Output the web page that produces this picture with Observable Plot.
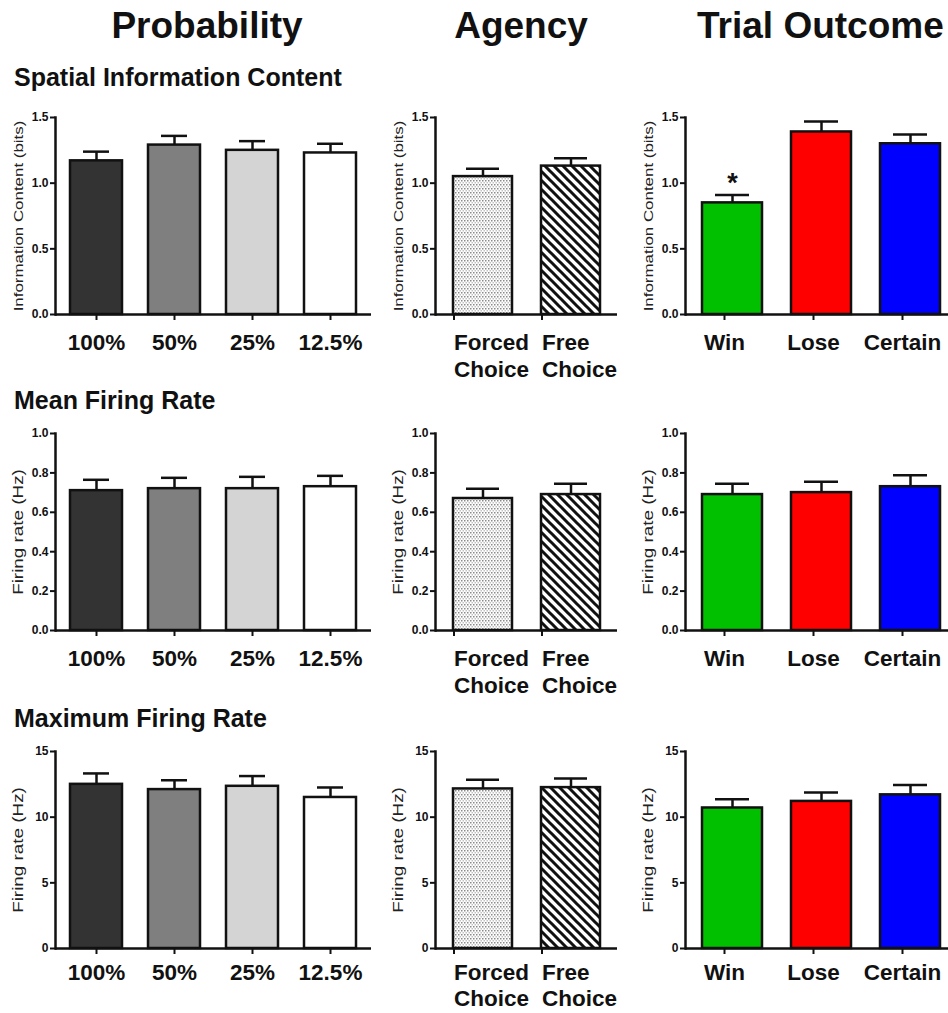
<!DOCTYPE html>
<html>
<head>
<meta charset="utf-8">
<script src="https://cdn.jsdelivr.net/npm/d3@7"></script>
<script src="https://cdn.jsdelivr.net/npm/@observablehq/plot@0.6"></script>
<style>
  body { margin: 0; background: #fff; }
  #fig { position: relative; width: 948px; height: 1013px; overflow: hidden;
         font-family: "Liberation Sans", Arial, sans-serif; color: #111; }
  .head { position: absolute; top: 7px; font-weight: bold; font-size: 37px; line-height: 37px; white-space: nowrap; }
  .sect { position: absolute; left: 14px; font-weight: bold; font-size: 25px; line-height: 25px; white-space: nowrap; }
  .panel { position: absolute; }
  .panel svg { max-width: none !important; }
</style>
</head>
<body>
<!-- fill patterns for the Agency bars -->
<svg width="0" height="0" style="position:absolute">
  <defs>
    <pattern id="stipple" width="3" height="4" patternUnits="userSpaceOnUse">
      <rect width="3" height="4" fill="#fff"/>
      <rect x="0" y="0" width="1.5" height="1.5" fill="#8a8a8a"/>
      <rect x="1.5" y="2" width="1.5" height="1.5" fill="#c2c2c2"/>
    </pattern>
    <pattern id="hatch" width="9" height="9" patternUnits="userSpaceOnUse">
      <rect width="9" height="9" fill="#fff"/>
      <path d="M-2,-2 L11,11 M-2,7 L2,11 M7,-2 L11,2" stroke="#111" stroke-width="3"/>
    </pattern>
  </defs>
</svg>

<div id="fig">
  <div class="head" style="left:207px;transform:translateX(-50%)">Probability</div>
  <div class="head" style="left:521px;transform:translateX(-50%)">Agency</div>
  <div class="head" style="left:697px">Trial Outcome</div>
  <div class="sect" style="top:65px">Spatial Information Content</div>
  <div class="sect" style="top:388px">Mean Firing Rate</div>
  <div class="sect" style="top:706px">Maximum Firing Rate</div>
</div>

<script>
// Categories
const probCats = ["100%", "50%", "25%", "12.5%"];
const agencyCats = ["Forced\nChoice", "Free\nChoice"];
const outcomeCats = ["Win", "Lose", "Certain"];

// Spatial information content (bits): means and SEM
const probInfo = [1.17, 1.29, 1.25, 1.23];
const probInfoSem = [0.07, 0.07, 0.07, 0.07];
const agencyInfo = [1.05, 1.13];
const agencyInfoSem = [0.06, 0.06];
const outcomeInfo = [0.85, 1.39, 1.30];
const outcomeInfoSem = [0.06, 0.08, 0.07];
const outcomeInfoSig = ["*", "", ""];

// Mean firing rate (Hz)
const probMean = [0.71, 0.72, 0.72, 0.73];
const probMeanSem = [0.055, 0.055, 0.06, 0.055];
const agencyMean = [0.67, 0.69];
const agencyMeanSem = [0.05, 0.055];
const outcomeMean = [0.69, 0.70, 0.73];
const outcomeMeanSem = [0.055, 0.055, 0.058];

// Maximum firing rate (Hz)
const probMax = [12.5, 12.1, 12.35, 11.5];
const probMaxSem = [0.83, 0.71, 0.78, 0.76];
const agencyMax = [12.15, 12.25];
const agencyMaxSem = [0.7, 0.7];
const outcomeMax = [10.7, 11.2, 11.7];
const outcomeMaxSem = [0.66, 0.67, 0.74];

// Axis ticks and titles
const infoTicks = [0, 0.5, 1.0, 1.5];
const meanTicks = [0, 0.2, 0.4, 0.6, 0.8, 1.0];
const maxTicks = [0, 5, 10, 15];
const infoLabel = "Information Content (bits)";
const rateLabel = "Firing rate (Hz)";

// Bar fills per group
const probFills = ["#333333", "#7f7f7f", "#d4d4d4", "#ffffff"];
const agencyFills = ["url(#stipple)", "url(#hatch)"];
const outcomeFills = ["#00c000", "#ff0000", "#0000ff"];

const INK = "#111";
const fig = document.getElementById("fig");

function panel({cats, vals, sems, fills, ticks, fmt, label, labelSize, sig, col, row}) {
  const data = cats.map((c, i) => ({
    cat: c, v: vals[i], e: vals[i] + sems[i], fill: fills[i], sig: sig ? sig[i] : ""
  }));
  const domain = [ticks[0], ticks[ticks.length - 1]];
  const chart = Plot.plot({
    width: col.width,
    height: 294,
    marginLeft: 55,
    marginRight: col.marginRight,
    marginTop: 17,
    marginBottom: 80,
    style: {fontFamily: "'Liberation Sans', Arial, sans-serif", color: INK, background: "transparent", overflow: "visible"},
    x: {domain: cats, paddingInner: 0.33, paddingOuter: 0.19, label: null},
    y: {domain, label: null},
    color: {type: "identity"},
    marks: [
      Plot.ruleX(data, {x: "cat", y1: "v", y2: "e", stroke: INK, strokeWidth: 2.5}),
      Plot.tickY(data, {x: "cat", y: "e", stroke: INK, strokeWidth: 2.5, insetLeft: 13, insetRight: 13}),
      Plot.barY(data, {x: "cat", y: "v", fill: "fill", stroke: INK, strokeWidth: 2.5}),
      sig ? Plot.text(data, {x: "cat", y: "e", text: "sig", dy: -12, fontSize: 27, fontWeight: "bold", fill: INK}) : null,
      Plot.ruleY([0], {stroke: INK, strokeWidth: 2.5}),
      Plot.frame({anchor: "left", stroke: INK, strokeWidth: 2.5}),
      Plot.axisY({ticks, tickFormat: fmt, tickSize: 5, tickPadding: 2, strokeWidth: 2, fontSize: 12, fontWeight: "bold", label: null}),
      Plot.axisX({tickSize: 6, tickPadding: row.tickPadding, strokeWidth: 2, fontSize: 22.5, fontWeight: "bold",
                  lineHeight: row.lineHeight, label: null, ...col.tickText}),
      Plot.text([label], {text: d => d, frameAnchor: "left", dx: -37, rotate: -90, textAnchor: "middle", lineAnchor: "middle", fontSize: labelSize, fill: "#222"})
    ]
  });
  const wrap = document.createElement("div");
  wrap.className = "panel";
  wrap.style.left = col.left + "px";
  wrap.style.top = row.top + "px";
  chart.style.maxWidth = "none";
  wrap.appendChild(chart);
  fig.appendChild(wrap);
  // stretch the rotated axis title along its length
  chart.querySelectorAll("text").forEach(t => {
    if (t.textContent === label) {
      const len = t.getComputedTextLength();
      t.setAttribute("textLength", (len * 1.3).toFixed(1));
      t.setAttribute("lengthAdjust", "spacingAndGlyphs");
    }
  });
}

const cols = [
  {left: 0, width: 380, marginRight: 9, tickText: {}},
  {left: 380, width: 250, marginRight: 13, tickText: {textAnchor: "start", dx: -29}},
  {left: 630, width: 330, marginRight: 3, tickText: {dx: -8}}
];
const rows = [
  {top: 100, tickPadding: 11, lineHeight: 1.17},
  {top: 416, tickPadding: 11, lineHeight: 1.17},
  {top: 734, tickPadding: 8, lineHeight: 1.12}
];
const f1 = d3.format(".1f"), f0 = d3.format("d");

// Row 1: spatial information content
panel({cats: probCats, vals: probInfo, sems: probInfoSem, fills: probFills, ticks: infoTicks, fmt: f1, label: infoLabel, labelSize: 13, col: cols[0], row: rows[0]});
panel({cats: agencyCats, vals: agencyInfo, sems: agencyInfoSem, fills: agencyFills, ticks: infoTicks, fmt: f1, label: infoLabel, labelSize: 13, col: cols[1], row: rows[0]});
panel({cats: outcomeCats, vals: outcomeInfo, sems: outcomeInfoSem, fills: outcomeFills, ticks: infoTicks, fmt: f1, label: infoLabel, labelSize: 13, sig: outcomeInfoSig, col: cols[2], row: rows[0]});

// Row 2: mean firing rate
panel({cats: probCats, vals: probMean, sems: probMeanSem, fills: probFills, ticks: meanTicks, fmt: f1, label: rateLabel, labelSize: 14.5, col: cols[0], row: rows[1]});
panel({cats: agencyCats, vals: agencyMean, sems: agencyMeanSem, fills: agencyFills, ticks: meanTicks, fmt: f1, label: rateLabel, labelSize: 14.5, col: cols[1], row: rows[1]});
panel({cats: outcomeCats, vals: outcomeMean, sems: outcomeMeanSem, fills: outcomeFills, ticks: meanTicks, fmt: f1, label: rateLabel, labelSize: 14.5, col: cols[2], row: rows[1]});

// Row 3: maximum firing rate
panel({cats: probCats, vals: probMax, sems: probMaxSem, fills: probFills, ticks: maxTicks, fmt: f0, label: rateLabel, labelSize: 14.5, col: cols[0], row: rows[2]});
panel({cats: agencyCats, vals: agencyMax, sems: agencyMaxSem, fills: agencyFills, ticks: maxTicks, fmt: f0, label: rateLabel, labelSize: 14.5, col: cols[1], row: rows[2]});
panel({cats: outcomeCats, vals: outcomeMax, sems: outcomeMaxSem, fills: outcomeFills, ticks: maxTicks, fmt: f0, label: rateLabel, labelSize: 14.5, col: cols[2], row: rows[2]});
</script>
</body>
</html>
